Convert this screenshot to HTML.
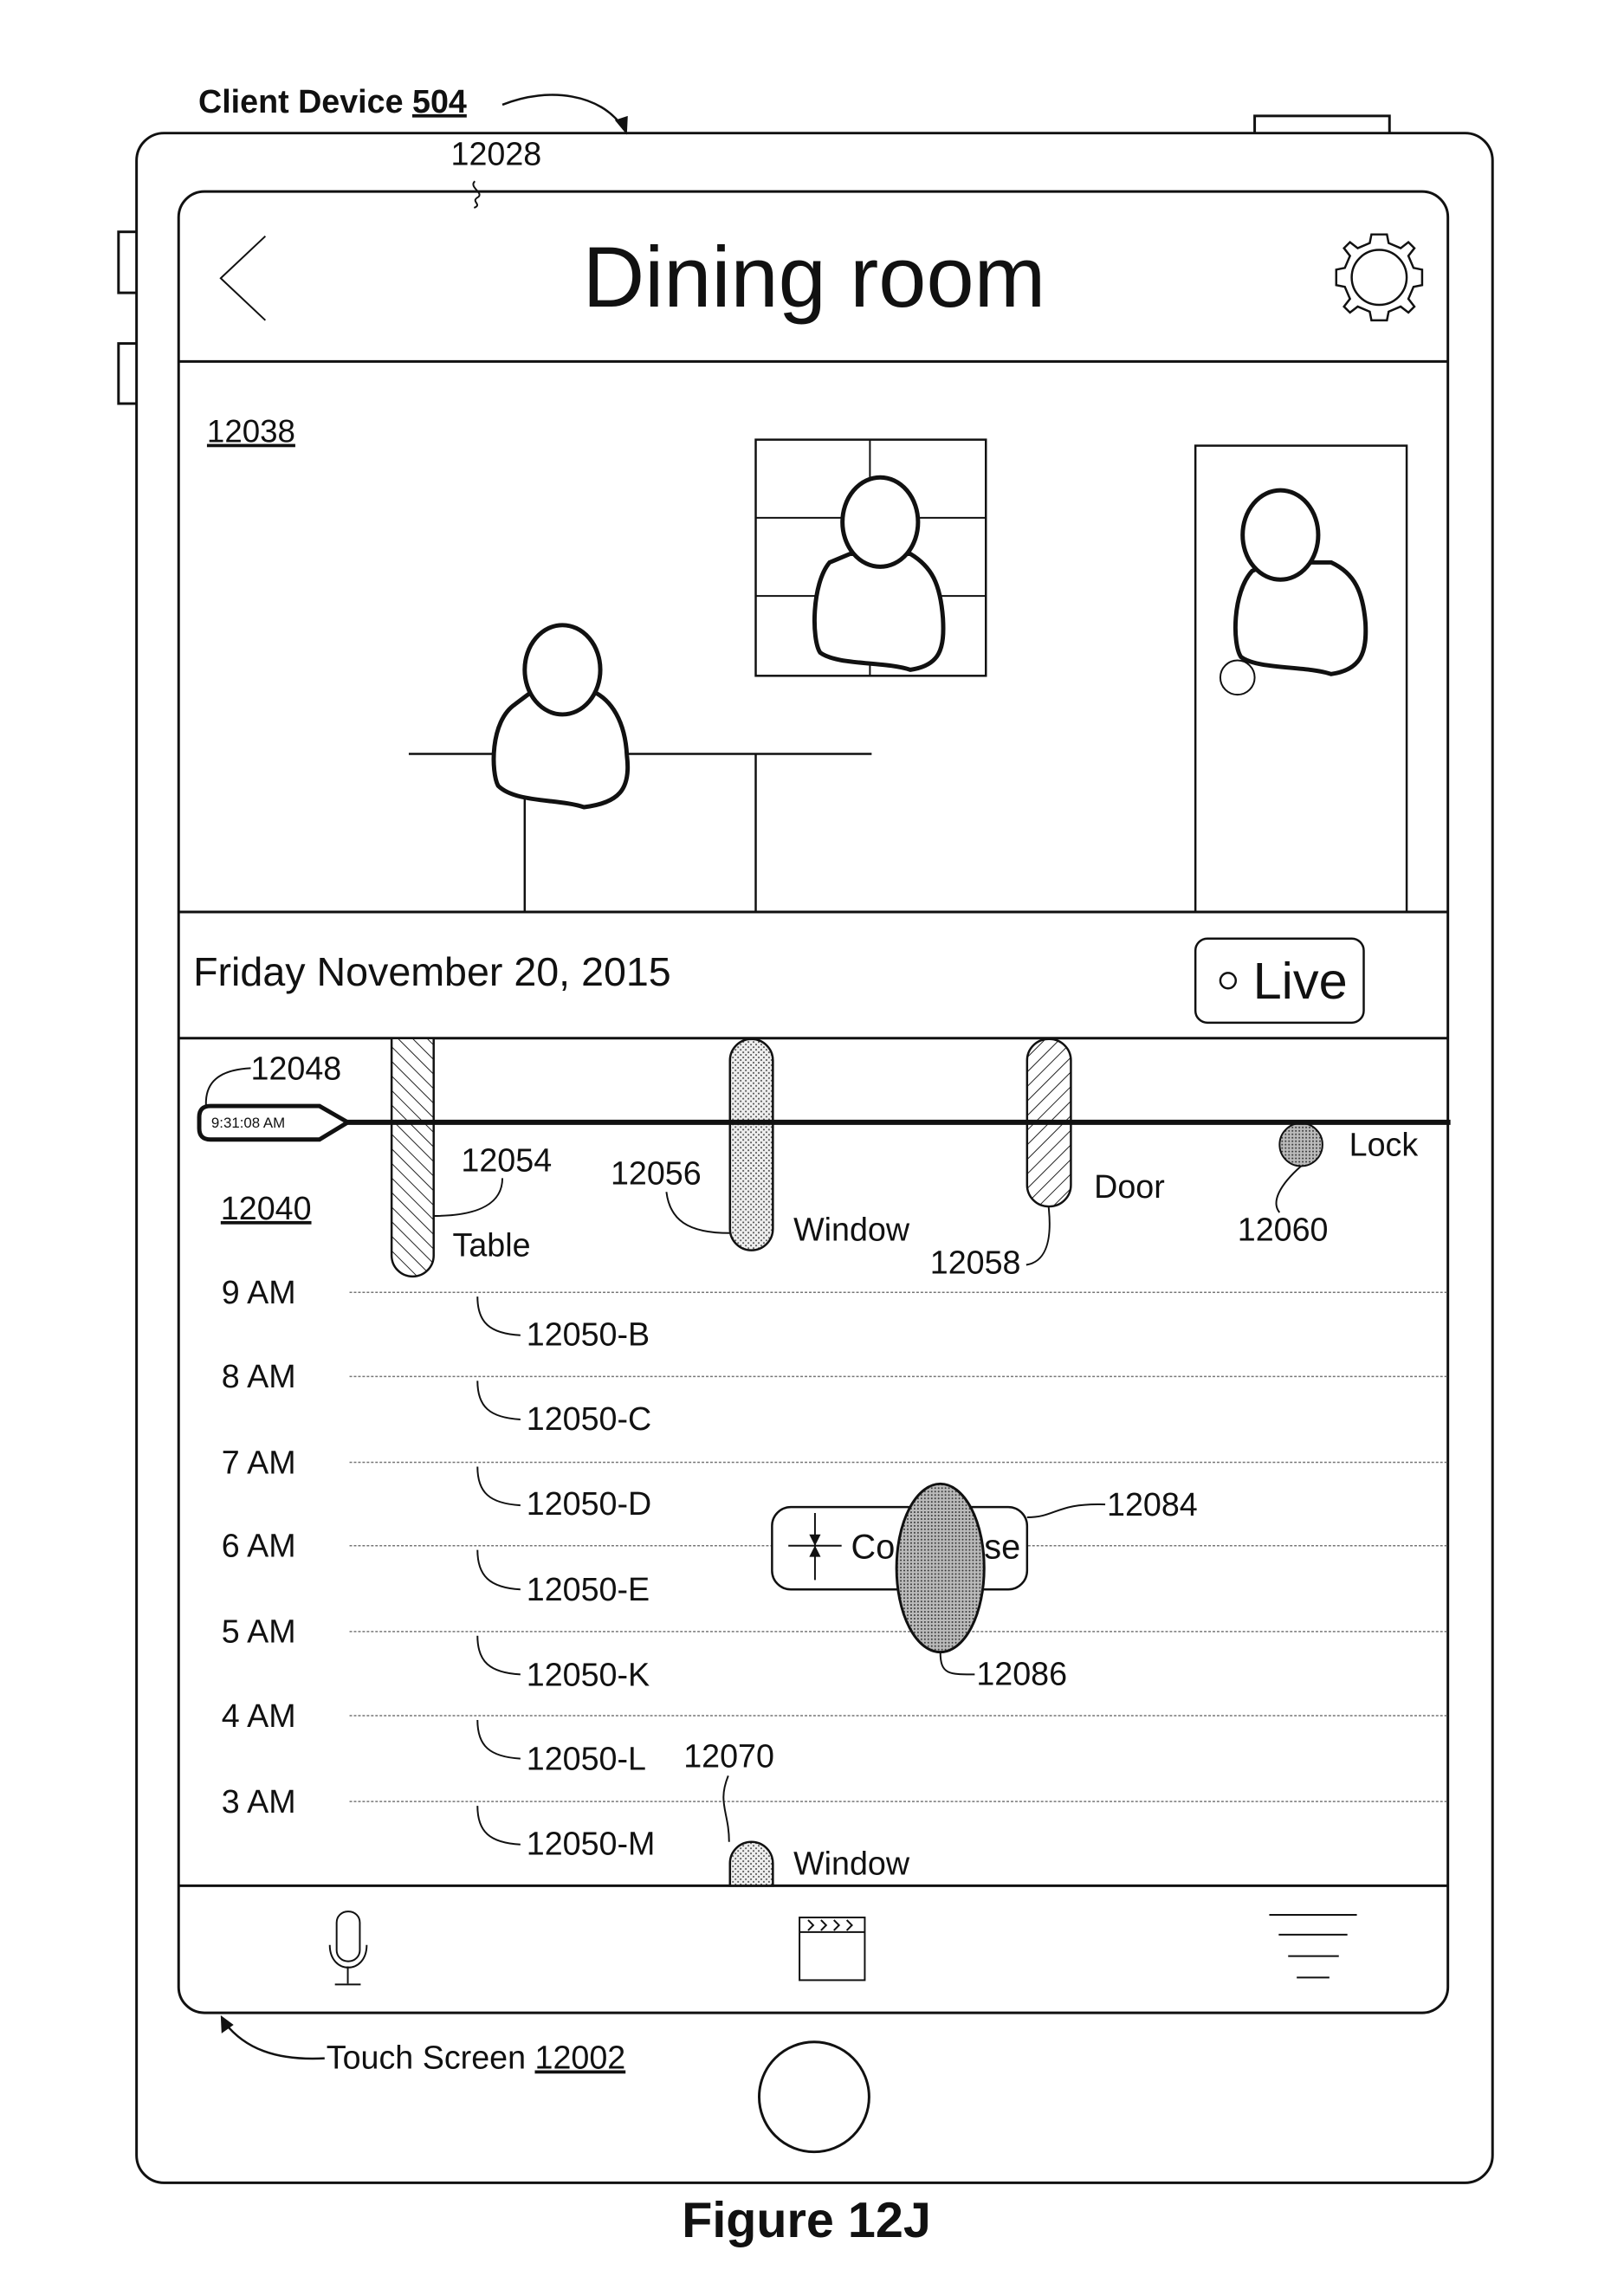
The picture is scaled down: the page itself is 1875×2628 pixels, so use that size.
<!DOCTYPE html>
<html><head><meta charset="utf-8"><style>
html,body{margin:0;padding:0;background:#fff}
svg{display:block}
text{font-family:"Liberation Sans",Arial,sans-serif;fill:#111}
</style></head><body>
<svg width="1875" height="2628" viewBox="0 0 1875 2628" xmlns="http://www.w3.org/2000/svg">
<defs>
<pattern id="hatchA" width="12" height="12" patternUnits="userSpaceOnUse" patternTransform="rotate(45)"><rect width="12" height="12" fill="#fff"/><line x1="0" y1="0" x2="0" y2="12" stroke="#222" stroke-width="2"/></pattern>
<pattern id="hatchB" width="12" height="12" patternUnits="userSpaceOnUse" patternTransform="rotate(-45)"><rect width="12" height="12" fill="#fff"/><line x1="0" y1="0" x2="0" y2="12" stroke="#222" stroke-width="2"/></pattern>
<pattern id="dots" width="6" height="6" patternUnits="userSpaceOnUse"><rect width="6" height="6" fill="#eee"/><circle cx="1.5" cy="1.5" r="1" fill="#444"/><circle cx="4.5" cy="4.5" r="1" fill="#444"/></pattern>
<pattern id="dots2" width="4" height="4" patternUnits="userSpaceOnUse"><rect width="4" height="4" fill="#bbb"/><circle cx="1" cy="1" r="1" fill="#333"/></pattern>
</defs>
<g transform="scale(0.9915)">
<g fill="none" stroke="#111" stroke-width="3">
<rect x="1461" y="135" width="157" height="22" fill="#fff"/>
<rect x="138" y="270" width="22" height="71" fill="#fff"/>
<rect x="138" y="400" width="22" height="70" fill="#fff"/>
<rect x="159" y="155" width="1579" height="2387" rx="32" fill="#fff"/>
<rect x="208" y="223" width="1478" height="2121" rx="30"/>
<line x1="208" y1="421" x2="1686" y2="421"/>
<line x1="208" y1="1062" x2="1686" y2="1062"/>
<line x1="208" y1="1209" x2="1686" y2="1209"/>
<line x1="208" y1="2196" x2="1686" y2="2196"/>
<circle cx="948" cy="2442" r="64"/>
<polyline points="309,275 257,324 309,373" stroke-width="2"/>
<g transform="translate(1606,323)" stroke-width="2.5">
<circle r="32"/>
<path d="M-9,-50 L9,-50 L11,-40 L25,-34 L34,-41 L41,-34 L34,-25 L40,-11 L50,-9 L50,9 L40,11 L34,25 L41,34 L34,41 L25,34 L11,40 L9,50 L-9,50 L-11,40 L-25,34 L-34,41 L-41,34 L-34,25 L-40,11 L-50,9 L-50,-9 L-40,-11 L-34,-25 L-41,-34 L-34,-41 L-25,-34 L-11,-40 Z"/>
</g>
<rect x="880" y="512" width="268" height="275" stroke-width="2.5"/>
<line x1="1013" y1="512" x2="1013" y2="787" stroke-width="2"/>
<line x1="880" y1="603" x2="1148" y2="603" stroke-width="2"/>
<line x1="880" y1="694" x2="1148" y2="694" stroke-width="2"/>
<rect x="1392" y="519" width="246" height="543" stroke-width="2.5"/>
<circle cx="1441" cy="789" r="20" stroke-width="2"/>
<line x1="476" y1="878" x2="1015" y2="878" stroke-width="2.5"/>
<line x1="611" y1="878" x2="611" y2="1062" stroke-width="2.5"/>
<line x1="880" y1="878" x2="880" y2="1062" stroke-width="2.5"/>
</g>
<g stroke="#111" stroke-width="5" fill="#fff">
<path d="M600,820 C570,840 572,900 580,915 C600,935 650,930 680,940 C720,935 735,920 730,880 C728,840 712,815 690,805 L620,805 Z"/>
<ellipse cx="655" cy="780" rx="44" ry="52"/>
<path d="M966,655 C945,680 945,745 955,760 C975,775 1030,770 1060,780 C1095,775 1100,755 1098,720 C1095,680 1085,660 1060,645 L990,645 Z"/>
<ellipse cx="1025" cy="608" rx="44" ry="52"/>
<path d="M1458,665 C1435,690 1435,750 1445,765 C1465,780 1520,775 1550,785 C1585,780 1592,760 1590,725 C1587,690 1578,668 1550,655 L1480,655 Z"/>
<ellipse cx="1491" cy="623" rx="44" ry="52"/>
</g>
<text x="948" y="357" font-size="100" text-anchor="middle">Dining room</text>
<text x="241" y="515" font-size="37" text-decoration="underline">12038</text>
<text x="225" y="1148" font-size="47">Friday November 20, 2015</text>
<rect x="1392" y="1093" width="196" height="98" rx="14" fill="none" stroke="#111" stroke-width="2.5"/>
<circle cx="1430" cy="1142" r="9" fill="none" stroke="#111" stroke-width="2.5"/>
<text x="1459" y="1163" font-size="60">Live</text>
<g stroke="#777" stroke-width="1.5" stroke-dasharray="3,2">
<line x1="407" y1="1505" x2="1686" y2="1505"/>
<line x1="407" y1="1603" x2="1686" y2="1603"/>
<line x1="407" y1="1703" x2="1686" y2="1703"/>
<line x1="407" y1="1800" x2="1686" y2="1800"/>
<line x1="407" y1="1900" x2="1686" y2="1900"/>
<line x1="407" y1="1998" x2="1686" y2="1998"/>
<line x1="407" y1="2098" x2="1686" y2="2098"/>
</g>
<g font-size="38">
<text x="258" y="1518">9 AM</text>
<text x="258" y="1616">8 AM</text>
<text x="258" y="1716">7 AM</text>
<text x="258" y="1813">6 AM</text>
<text x="258" y="1913">5 AM</text>
<text x="258" y="2011">4 AM</text>
<text x="258" y="2111">3 AM</text>
<text x="613" y="1567">12050-B</text>
<text x="613" y="1665">12050-C</text>
<text x="613" y="1764">12050-D</text>
<text x="613" y="1864">12050-E</text>
<text x="613" y="1963">12050-K</text>
<text x="613" y="2061">12050-L</text>
<text x="613" y="2160">12050-M</text>
</g>
<g fill="none" stroke="#111" stroke-width="2">
<path d="M556,1510 C556,1540 570,1553 606,1555"/>
<path d="M556,1608 C556,1638 570,1651 606,1653"/>
<path d="M556,1708 C556,1738 570,1751 606,1753"/>
<path d="M556,1805 C556,1835 570,1849 606,1851"/>
<path d="M556,1905 C556,1935 570,1948 606,1950"/>
<path d="M556,2003 C556,2033 570,2046 606,2048"/>
<path d="M556,2103 C556,2133 570,2146 606,2148"/>
</g>
<path d="M456,1209 L505,1209 L505,1462 A24.5,24.5 0 0 1 456,1462 Z" fill="url(#hatchB)" stroke="#111" stroke-width="2.5"/>
<rect x="850" y="1210" width="50" height="246" rx="25" fill="url(#dots)" stroke="#111" stroke-width="2.5"/>
<rect x="1196" y="1210" width="51" height="195" rx="25" fill="url(#hatchA)" stroke="#111" stroke-width="2.5"/>
<circle cx="1515" cy="1333" r="25" fill="url(#dots2)" stroke="#111" stroke-width="2"/>
<path d="M850,2196 L850,2170 A25,25 0 0 1 900,2170 L900,2196 Z" fill="url(#dots)" stroke="#111" stroke-width="2.5"/>
<line x1="400" y1="1307" x2="1689" y2="1307" stroke="#111" stroke-width="6"/>
<path d="M245,1288 L372,1288 L405,1307 L372,1327 L245,1327 Q232,1327 232,1314 L232,1301 Q232,1288 245,1288 Z" fill="#fff" stroke="#111" stroke-width="5"/>
<text x="246" y="1313" font-size="17">9:31:08 AM</text>
<path d="M240,1289 C238,1260 255,1246 292,1244" fill="none" stroke="#111" stroke-width="2"/>
<g font-size="38">
<text x="292" y="1257">12048</text>
<text x="537" y="1364">12054</text>
<text x="527" y="1463">Table</text>
<text x="711" y="1379">12056</text>
<text x="924" y="1445">Window</text>
<text x="1274" y="1395">Door</text>
<text x="1083" y="1483">12058</text>
<text x="1571" y="1346">Lock</text>
<text x="1441" y="1445">12060</text>
<text x="257" y="1420" text-decoration="underline">12040</text>
<text x="796" y="2058">12070</text>
<text x="924" y="2183">Window</text>
<text x="1289" y="1765">12084</text>
<text x="1137" y="1962">12086</text>
</g>
<g fill="none" stroke="#111" stroke-width="2">
<path d="M505,1416 C560,1416 585,1400 585,1372"/>
<path d="M850,1436 C800,1436 780,1420 776,1388"/>
<path d="M1221,1405 C1226,1450 1215,1470 1195,1473"/>
<path d="M1515,1358 C1490,1380 1480,1400 1490,1412"/>
<path d="M849,2145 C849,2110 835,2100 848,2068"/>
<path d="M1196,1767 C1230,1767 1230,1750 1287,1752"/>
<path d="M1095,1924 C1095,1950 1105,1950 1135,1950"/>
</g>
<rect x="899" y="1755" width="297" height="96" rx="22" fill="#fff" stroke="#111" stroke-width="2.5"/>
<g stroke="#111" stroke-width="2">
<line x1="918" y1="1800" x2="980" y2="1800"/>
<line x1="949" y1="1762" x2="949" y2="1840"/>
<path d="M944,1788 L949,1798 L954,1788 Z M944,1812 L949,1802 L954,1812 Z" fill="#111"/>
</g>
<text x="991" y="1815" font-size="40">Co</text>
<text x="1146" y="1815" font-size="40">se</text>
<ellipse cx="1095" cy="1826" rx="51" ry="98" fill="url(#dots2)" stroke="#111" stroke-width="3"/>
<g fill="none" stroke="#111" stroke-width="2">
<rect x="392" y="2226" width="27" height="58" rx="13"/>
<path d="M384,2265 C384,2300 427,2300 427,2265"/>
<line x1="405" y1="2290" x2="405" y2="2310"/>
<line x1="390" y1="2311" x2="420" y2="2311"/>
<rect x="931" y="2233" width="76" height="73"/>
<line x1="931" y1="2250" x2="1007" y2="2250"/>
<path d="M941,2236 l6,6 l-6,6 M956,2236 l6,6 l-6,6 M971,2236 l6,6 l-6,6 M986,2236 l6,6 l-6,6"/>
<line x1="1478" y1="2230" x2="1580" y2="2230"/>
<line x1="1489" y1="2253" x2="1569" y2="2253"/>
<line x1="1500" y1="2278" x2="1559" y2="2278"/>
<line x1="1510" y1="2303" x2="1548" y2="2303"/>
</g>
<text x="231" y="131" font-size="38" font-weight="bold">Client Device <tspan text-decoration="underline">504</tspan></text>
<path d="M585,122 C640,100 700,110 725,148" fill="none" stroke="#111" stroke-width="2.5"/>
<path d="M716,140 L730,157 L731,135 Z" fill="#111"/>
<text x="525" y="192" font-size="38">12028</text>
<path d="M553,211 C545,218 565,225 556,230 C548,235 562,238 552,242" fill="none" stroke="#111" stroke-width="2"/>
<text x="380" y="2409" font-size="38">Touch Screen <tspan text-decoration="underline">12002</tspan></text>
<path d="M378,2397 C320,2400 285,2385 262,2356" fill="none" stroke="#111" stroke-width="2.5"/>
<path d="M257,2347 L258,2368 L272,2358 Z" fill="#111"/>
<text x="939" y="2605" font-size="58" font-weight="bold" text-anchor="middle">Figure 12J</text>
</g>
</svg>
</body></html>
